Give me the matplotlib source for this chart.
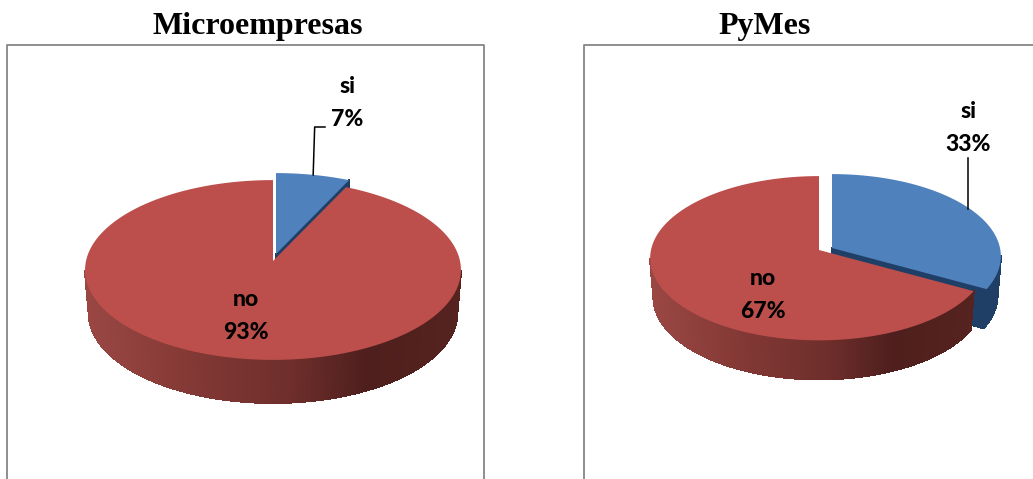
import numpy as np
import matplotlib
matplotlib.use("Agg")
import matplotlib.pyplot as plt
from matplotlib.collections import PolyCollection
from matplotlib.colors import LinearSegmentedColormap
from matplotlib.patches import Polygon, Rectangle

categories = ["si", "no"]
micro_values = [7, 93]
pyme_values = [33, 67]
chart_titles = ["Microempresas", "PyMes"]

BLUE = "#4f81bd"
BLUE_WALL = "#1f3f66"
RED = "#bc4f4c"
FRAME = "#868686"
TILT = 0.1  # perspective of the pie plane, the back edge sits closer to the centre

red_wall = LinearSegmentedColormap.from_list(
    "red_wall", [(0.0, "#9a4744"), (0.25, "#853a36"), (0.55, "#6e2e2b"), (0.75, "#4e1f1d"), (1.0, "#56231f")]
)


def project(theta, centre, rx, ry):
    # theta runs clockwise from twelve o'clock
    u, v = np.sin(theta), np.cos(theta)
    w = 1 + TILT * v
    return centre[0] + rx * u / w, centre[1] - ry * v / w


def draw_walls(ax, xs, ys, centre, depth, colour_at):
    # one thin quad per step, so the shading can follow x
    if len(xs) < 2:
        return
    quads, colours = [], []
    low_x = centre[0] + (xs - centre[0]) * 0.98
    low_y = ys + depth
    for i in range(len(xs) - 1):
        quads.append([(xs[i], ys[i]), (xs[i + 1], ys[i + 1]), (low_x[i + 1], low_y[i + 1]), (low_x[i], low_y[i])])
        colours.append(colour_at(0.5 * (xs[i] + xs[i + 1])))
    ax.add_collection(PolyCollection(quads, facecolors=colours, edgecolors="face", linewidths=0.8, antialiaseds=False))


def draw_pie(ax, values, red_centre, blue_centre, rx, ry, depth):
    split = 2 * np.pi * values[0] / sum(values)
    blue_arc = np.linspace(0, split, 120)
    red_arc = np.linspace(split, 2 * np.pi, 400)
    bx, by = project(blue_arc, blue_centre, rx, ry)
    rdx, rdy = project(red_arc, red_centre, rx, ry)
    # back of the rim is hidden by the top face, the widest point sits a bit below the centre
    blue_front = np.cos(blue_arc) < -TILT
    red_front = np.cos(red_arc) < -TILT

    # blue wedge: outer wall, cut face, then the top
    draw_walls(ax, bx[blue_front], by[blue_front], blue_centre, depth, lambda x: BLUE_WALL)
    cut_x = np.linspace(blue_centre[0], bx[-1], 30)
    cut_y = np.linspace(blue_centre[1], by[-1], 30)
    draw_walls(ax, cut_x, cut_y, blue_centre, depth, lambda x: BLUE_WALL)
    ax.add_patch(Polygon(np.column_stack([np.r_[blue_centre[0], bx], np.r_[blue_centre[1], by]]),
                         facecolor=BLUE, edgecolor="none"))

    # red wedge on top of it
    left, right = rdx.min(), rdx.max()
    draw_walls(ax, rdx[red_front], rdy[red_front], red_centre, depth,
               lambda x: red_wall((x - left) / (right - left)))
    ax.add_patch(Polygon(np.column_stack([np.r_[red_centre[0], rdx], np.r_[red_centre[1], rdy]]),
                         facecolor=RED, edgecolor="none"))
    # where the leader of the blue wedge lands
    return project(split / 2, blue_centre, rx, ry)


def pie_label(ax, x, y, category, value):
    ax.text(x, y, f"{category}\n{value}%", ha="center", va="center", fontsize=16.5,
            fontweight=900, family="Lato", color="black", linespacing=1.68)


def draw_title(ax, x, text):
    title = ax.text(x, 33.5, text, ha="center", va="baseline", fontsize=23, fontweight="bold",
                    family="Liberation Serif", color="black")
    # the descenders are cut off just under the baseline
    title.set_clip_path(Rectangle((0, 0), 1033, 34.5, transform=ax.transData))


fig = plt.figure(figsize=(10.33, 4.79), dpi=100)
ax = fig.add_axes([0, 0, 1, 1])
ax.set_xlim(0, 1033)
ax.set_ylim(479, 0)
ax.axis("off")

# frames run off the bottom of the page
ax.plot([7, 7, 483.5, 483.5], [479, 44.5, 44.5, 479], color=FRAME, lw=1.3)
ax.plot([584, 584, 1034], [479, 44.5, 44.5], color=FRAME, lw=1.3)

draw_title(ax, 258, chart_titles[0])
draw_title(ax, 765, chart_titles[1])

lead_x, lead_y = draw_pie(ax, micro_values, (273, 261), (276, 254), 187, 89, 43)
ax.plot([325, lead_x + 1.5, lead_x], [127, 127, lead_y], color="black", lw=1.1)
pie_label(ax, 347, 103, categories[0], micro_values[0])
pie_label(ax, 246, 316, categories[1], micro_values[1])

lead_x, lead_y = draw_pie(ax, pyme_values, (819, 250), (832, 248), 168, 81.3, 39)
ax.plot([968, 968], [158, lead_y], color="black", lw=1.1)
pie_label(ax, 968, 128, categories[0], pyme_values[0])
pie_label(ax, 763, 295, categories[1], pyme_values[1])

fig.savefig("out.png", dpi=100, facecolor="white")
